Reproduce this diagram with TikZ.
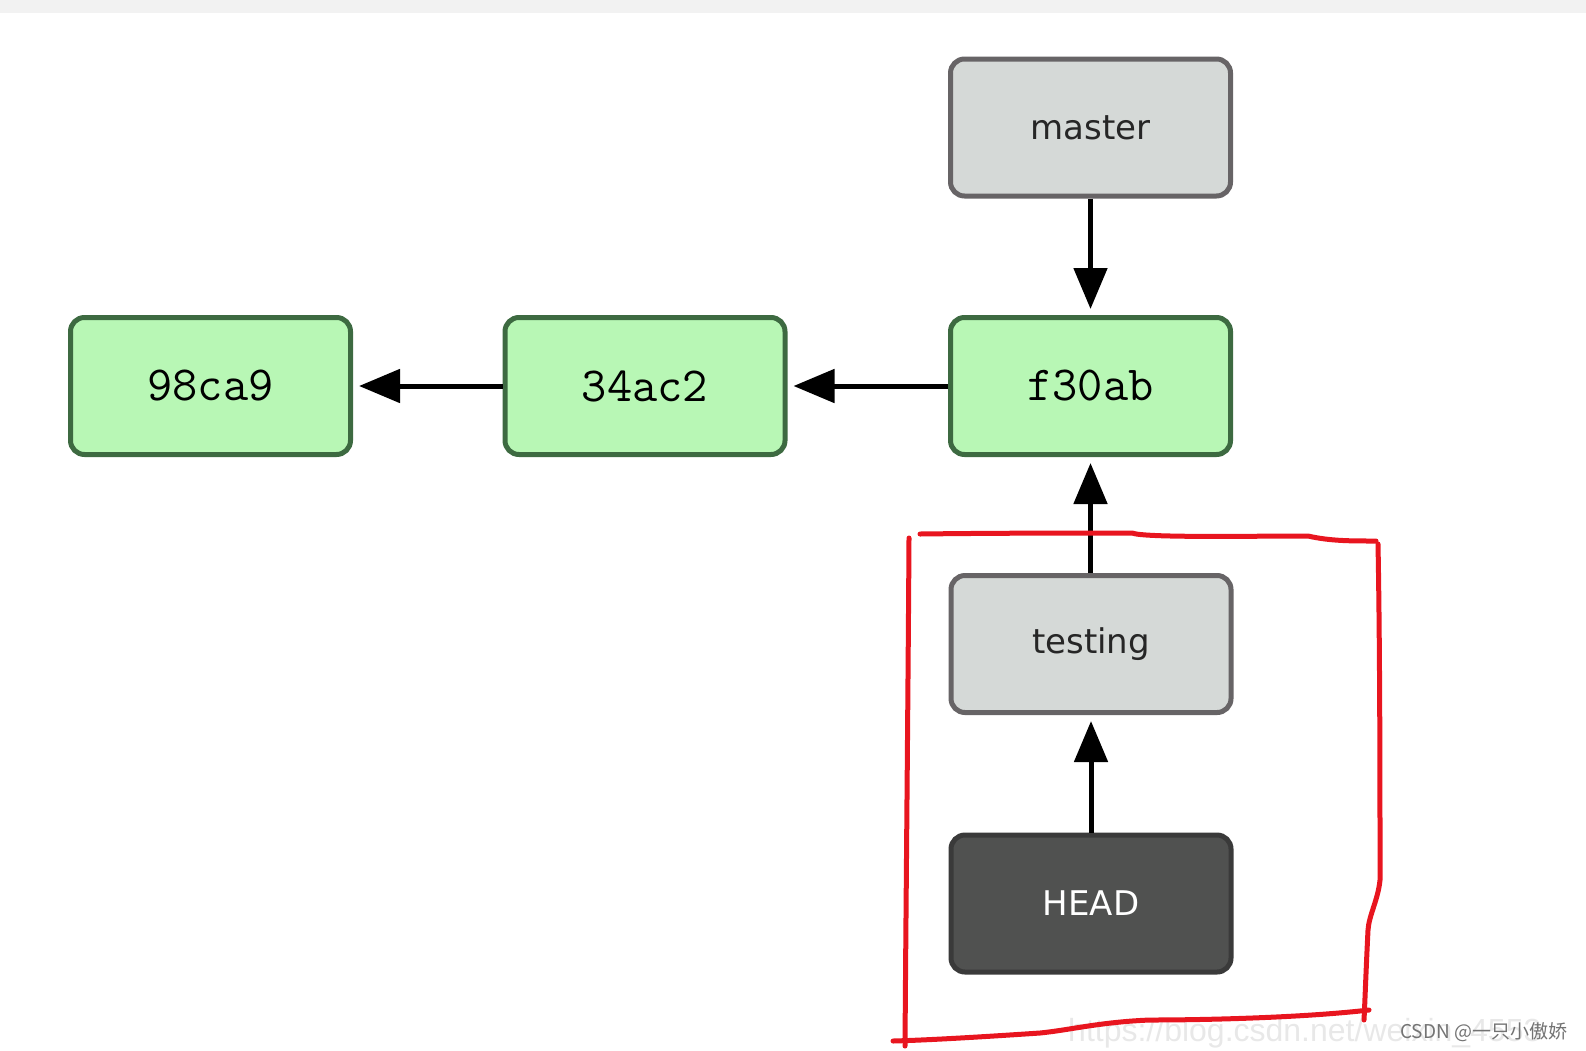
\documentclass[tikz,border=0pt]{standalone}
\usepackage{fontspec}
\setmainfont{DejaVu Sans}
\newfontfamily\cjk{Noto Sans CJK SC}
\newfontfamily\urlfont{Liberation Sans}
\usetikzlibrary{arrows.meta}
\definecolor{commitfill}{HTML}{B8F7B5}
\definecolor{commitdraw}{HTML}{3D6A41}
\definecolor{reffill}{HTML}{D5D9D7}
\definecolor{refdraw}{HTML}{676466}
\definecolor{headfill}{HTML}{505150}
\definecolor{headdraw}{HTML}{3A3A3A}
\definecolor{markred}{HTML}{E8151F}
\tikzset{
  box/.style={rectangle, rounded corners=14pt, line width=5pt,
    minimum width=280pt, minimum height=137pt, inner sep=0pt},
  commit/.style={box, fill=commitfill, draw=commitdraw, text=black,
    font=\fontsize{49}{56}\selectfont\ttfamily},
  branch/.style={box, fill=reffill, draw=refdraw, text=black!85,
    font=\fontsize{34}{40}\selectfont},
  headbox/.style={box, fill=headfill, draw=headdraw, text=white,
    font=\fontsize{34}{40}\selectfont},
  ptr/.style={line width=5pt, -{Triangle[length=41pt,width=33pt]}, shorten >=6pt},
  redmark/.style={markred, line width=5pt, line cap=round, line join=round}
}
\begin{document}
\begin{tikzpicture}[x=1pt,y=-1pt]
\useasboundingbox (0,0) rectangle (1586,1050);
\fill[black!5] (0,0) rectangle (1586,13);

\node[commit] (c98) at (210.5,386) {98ca9};
\node[commit] (c34) at (645,386) {34ac2};
\node[commit] (f30) at (1090.5,386) {f30ab};
\node[branch] (master) at (1090.5,127.5) {master};
\node[branch] (testing) at (1091,644) {testing};
\node[headbox] (head) at (1091,903.5) {HEAD};

\draw[ptr] (c34) -- (c98);
\draw[ptr] (f30) -- (c34);
\draw[ptr] (master) -- (f30);
\draw[ptr] (testing.north -| f30.south) -- (f30);
\draw[ptr] (head) -- (testing);

\node[anchor=base west, text=black!9, font=\urlfont\fontsize{32}{36}\selectfont, inner sep=0pt]
  (url) at (1068,1041) {https://blog.csdn.net/weixin\_4553};

\draw[redmark] (920,534) .. controls (1000,533) and (1080,533) .. (1132,533)
  .. controls (1145,538) and (1250,536) .. (1308,536)
  .. controls (1330,541) and (1350,541) .. (1376,541);
\draw[redmark] (1378,544) .. controls (1380,650) and (1380,800) .. (1380,880)
  .. controls (1378,900) and (1369,915) .. (1368,930)
  .. controls (1366,970) and (1365,1000) .. (1364,1020);
\draw[redmark] (1369,1010) .. controls (1300,1018) and (1200,1020) .. (1150,1020)
  .. controls (1100,1022) and (1070,1030) .. (1040,1033)
  .. controls (980,1037) and (930,1040) .. (893,1041);
\draw[redmark] (909,538) .. controls (908,700) and (906,900) .. (905,1046);

\node[anchor=west, text=black!55, font=\cjk\fontsize{19}{22}\selectfont, inner sep=0pt]
  (csdn) at (1400,1032) {CSDN @一只小傲娇};
\end{tikzpicture}
\end{document}
